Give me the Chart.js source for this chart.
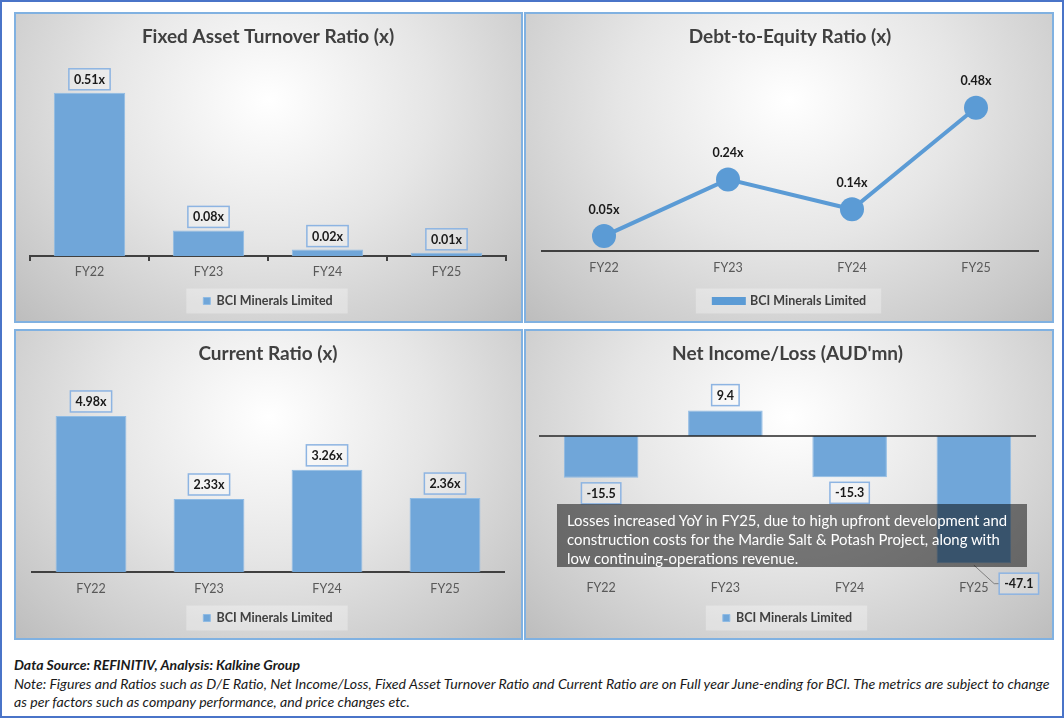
<!DOCTYPE html>
<html>
<head>
<meta charset="utf-8">
<title>BCI Minerals Limited - key ratios</title>
<script src="https://cdn.jsdelivr.net/npm/chart.js@4.4.1/dist/chart.umd.min.js"></script>
<style>
    html, body { margin: 0; padding: 0; background: #fff; }
    #frame {
        position: relative; width: 1064px; height: 718px; box-sizing: border-box;
        border: 2px solid #4a74c8; overflow: hidden; font-family: Lato, sans-serif;
    }
    .panel {
        position: absolute; box-sizing: border-box; border: 2px solid #80b1e1;
        background: radial-gradient(farthest-corner at 50% 28%, #ffffff 0%, #e6e6e6 45%, #c9c9c9 85%, #bdbdbd 100%);
    }
    .panel canvas { position: absolute; left: 0; top: 0; }
    #p1 { left: 12px; top: 10px; width: 509px; height: 311px; }
    #p2 { left: 522px; top: 10px; width: 530px; height: 311px; }
    #p3 { left: 12px; top: 327px; width: 509px; height: 311px; }
    #p4 { left: 522px; top: 327px; width: 530px; height: 311px; }
    #note-box {
        position: absolute; left: 555px; top: 502px; width: 470px; height: 63px;
        box-sizing: border-box; padding: 7px 0 0 10px; background: rgba(0, 0, 0, 0.5);
        color: #fff; font: 14.9px/19px Lato, sans-serif; white-space: nowrap;
    }
    .foot {
        position: absolute; left: 12px; color: #1a1a1a; white-space: nowrap;
        font-family: Lato, sans-serif; font-style: italic; font-size: 13px;
        transform-origin: 0 0;
    }
    #source { top: 655px; font-weight: bold; }
    #disclaimer { top: 673px; line-height: 18px; }
</style>
</head>
<body>
<div id="frame">
    <div class="panel" id="p1"><canvas id="c1" width="505" height="307"></canvas></div>
    <div class="panel" id="p2"><canvas id="c2" width="526" height="307"></canvas></div>
    <div class="panel" id="p3"><canvas id="c3" width="505" height="307"></canvas></div>
    <div class="panel" id="p4"><canvas id="c4" width="526" height="307"></canvas></div>
    <div id="note-box">Losses increased YoY in FY25, due to high upfront development and<br>construction costs for the Mardie Salt &amp; Potash Project, along with<br>low continuing-operations revenue.</div>
    <div class="foot" id="source" data-width="286">Data Source: REFINITIV, Analysis: Kalkine Group</div>
    <div class="foot" id="disclaimer" data-width="1035">Note: Figures and Ratios such as D/E Ratio, Net Income/Loss, Fixed Asset Turnover Ratio and Current Ratio are on Full year June-ending for BCI. The metrics are subject to change<br>as per factors such as company performance, and price changes etc.</div>
</div>
<script>
const COMPANY = 'BCI Minerals Limited';
const YEARS = ['FY22', 'FY23', 'FY24', 'FY25'];
const FIXED_ASSET_TURNOVER = [0.51, 0.08, 0.02, 0.01];
const DEBT_TO_EQUITY = [0.05, 0.24, 0.14, 0.48];
const CURRENT_RATIO = [4.98, 2.33, 3.26, 2.36];
const NET_INCOME = [-15.5, 9.4, -15.3, -47.1];

const BAR_BLUE = '#70a6d9';
const LINE_BLUE = '#5b9bd5';
const AXIS_DARK = '#404040';

Chart.defaults.font.family = 'Lato, sans-serif';

// footer lines are set in a condensed look: squeeze them to the original width
document.querySelectorAll('.foot').forEach(function (el) {
    const k = Number(el.dataset.width) / el.offsetWidth;
    el.style.transform = 'scaleX(' + k + ')';
});

// light box behind the legend item (and the dot for the line legend)
const legendBox = {
    id: 'legendBox',
    beforeDraw(chart, args, opts) {
        const lg = chart.legend;
        if (!lg || !lg.legendHitBoxes || !lg.legendHitBoxes.length) return;
        const hb = lg.legendHitBoxes[0];
        const cy = hb.top + hb.height / 2;
        const ctx = chart.ctx;
        ctx.save();
        ctx.fillStyle = 'rgba(255,255,255,0.3)';
        ctx.fillRect(hb.left - opts.padLeft, cy - 12.5, hb.width + opts.padLeft + opts.padRight, 25);
        ctx.restore();
    },
    afterDraw(chart, args, opts) {
        if (!opts.dot) return;
        const lg = chart.legend;
        const hb = lg.legendHitBoxes[0];
        const ctx = chart.ctx;
        ctx.save();
        ctx.fillStyle = LINE_BLUE;
        ctx.beginPath();
        ctx.arc(hb.left + lg.options.labels.boxWidth / 2, hb.top + hb.height / 2, 4, 0, Math.PI * 2);
        ctx.fill();
        ctx.restore();
    }
};

// horizontal line at value zero
const zeroLine = {
    id: 'zeroLine',
    afterDatasetsDraw(chart, args, opts) {
        if (!opts.show) return;
        const y = chart.scales.y.getPixelForValue(0);
        const ctx = chart.ctx;
        ctx.save();
        ctx.strokeStyle = '#262626';
        ctx.lineWidth = 1.5;
        ctx.beginPath();
        ctx.moveTo(chart.chartArea.left, y);
        ctx.lineTo(chart.chartArea.right, y);
        ctx.stroke();
        ctx.restore();
    }
};

// value labels, optionally boxed, with an optional callout for one point
const valueLabels = {
    id: 'valueLabels',
    afterDatasetsDraw(chart, args, opts) {
        const ctx = chart.ctx;
        const meta = chart.getDatasetMeta(0);
        const values = chart.data.datasets[0].data;
        ctx.save();
        ctx.font = 'bold 12.5px Lato, sans-serif';
        ctx.textAlign = 'center';
        ctx.textBaseline = 'middle';
        meta.data.forEach(function (el, i) {
            const v = values[i];
            const text = v.toFixed(opts.decimals) + (opts.suffix || '');
            const w = ctx.measureText(text).width + 10;
            const h = 21;
            let x = el.x;
            let cy;
            const call = opts.callout && opts.callout.index === i ? opts.callout : null;
            if (call) {
                x = el.x + call.dx;
                cy = el.y + call.dy;
                ctx.strokeStyle = '#7f7f7f';
                ctx.lineWidth = 1;
                ctx.beginPath();
                ctx.moveTo(el.x, el.y + 2);
                ctx.lineTo(x - w / 2 - 5, cy);
                ctx.lineTo(x - w / 2, cy);
                ctx.stroke();
            } else if (opts.box) {
                cy = v >= 0 ? el.y - opts.gap - h / 2 : el.y + opts.gap + h / 2;
            } else {
                cy = el.y - opts.gap;
            }
            if (opts.box) {
                ctx.fillStyle = 'rgba(255,255,255,0.25)';
                ctx.fillRect(x - w / 2, cy - h / 2, w, h);
                ctx.strokeStyle = '#8db4e2';
                ctx.lineWidth = 1.5;
                ctx.strokeRect(x - w / 2, cy - h / 2, w, h);
            }
            ctx.fillStyle = '#1a1a1a';
            ctx.fillText(text, x, cy + 0.5);
        });
        ctx.restore();
    }
};

Chart.register(legendBox, zeroLine, valueLabels);

function baseOptions(cfg) {
    return {
        responsive: false,
        animation: false,
        layout: { padding: { left: cfg.padLeft, right: cfg.padRight, top: 0, bottom: 3.75 } },
        scales: {
            x: {
                offset: true,
                grid: {
                    display: !!cfg.tickMarks, drawOnChartArea: false, drawTicks: !!cfg.tickMarks,
                    tickLength: 5, color: AXIS_DARK, lineWidth: 2
                },
                border: { display: cfg.axisLine !== false, color: AXIS_DARK, width: 2 },
                ticks: { color: '#595959', padding: cfg.tickPad, font: { size: 12.5 } }
            },
            y: { display: false, min: cfg.min, max: cfg.max }
        },
        plugins: {
            title: {
                display: true, text: cfg.title, color: AXIS_DARK,
                font: { size: 19, weight: 'bold' },
                padding: { top: 11.6, bottom: cfg.titleGap }
            },
            legend: {
                position: 'bottom',
                labels: {
                    color: AXIS_DARK, font: { size: 12.5, weight: 'bold' },
                    boxWidth: cfg.legendBoxW || 7, boxHeight: cfg.legendBoxH || 7,
                    padding: cfg.legendPad
                }
            },
            tooltip: { enabled: false },
            legendBox: { padLeft: cfg.legendLeft || 17, padRight: 15, dot: !!cfg.legendDot },
            zeroLine: { show: !!cfg.zero },
            valueLabels: cfg.labels
        }
    };
}

function barChart(id, values, cfg) {
    return new Chart(document.getElementById(id), {
        type: 'bar',
        data: {
            labels: YEARS,
            datasets: [{
                label: COMPANY,
                data: values,
                backgroundColor: BAR_BLUE,
                borderColor: '#8fbbe4',
                borderWidth: 1,
                barPercentage: 0.6,
                categoryPercentage: 1
            }]
        },
        options: baseOptions(cfg)
    });
}

barChart('c1', FIXED_ASSET_TURNOVER, {
    title: 'Fixed Asset Turnover Ratio (x)', titleGap: 15.6,
    min: 0, max: 0.6, padLeft: 14, padRight: 15,
    tickMarks: true, tickPad: 3.5, legendPad: 11.75,
    labels: { decimals: 2, suffix: 'x', box: true, gap: 3 }
});

new Chart(document.getElementById('c2'), {
    type: 'line',
    data: {
        labels: YEARS,
        datasets: [{
            label: COMPANY,
            data: DEBT_TO_EQUITY,
            borderColor: LINE_BLUE,
            backgroundColor: LINE_BLUE,
            borderWidth: 4,
            pointRadius: 12,
            pointBackgroundColor: LINE_BLUE,
            pointBorderWidth: 0,
            clip: false
        }]
    },
    options: baseOptions({
        title: 'Debt-to-Equity Ratio (x)', titleGap: 23.6,
        min: 0, max: 0.6, padLeft: 16, padRight: 14,
        tickPad: 9.5, legendPad: 9.75,
        legendBoxW: 30, legendBoxH: 4, legendDot: true, legendLeft: 18,
        labels: { decimals: 2, suffix: 'x', box: false, gap: 27 }
    })
});

barChart('c3', CURRENT_RATIO, {
    title: 'Current Ratio (x)', titleGap: 18.6,
    min: 0, max: 6, padLeft: 16, padRight: 17,
    tickPad: 9.5, legendPad: 5.75,
    labels: { decimals: 2, suffix: 'x', box: true, gap: 4 }
});

barChart('c4', NET_INCOME, {
    title: "Net Income/Loss (AUD'mn)", titleGap: 16.6,
    min: -52, max: 20, padLeft: 13, padRight: 16,
    axisLine: false, zero: true, tickPad: 4, legendPad: 12.35,
    labels: { decimals: 1, suffix: '', box: true, gap: 5, callout: { index: 3, dx: 45, dy: 20.5 } }
});
</script>
</body>
</html>
